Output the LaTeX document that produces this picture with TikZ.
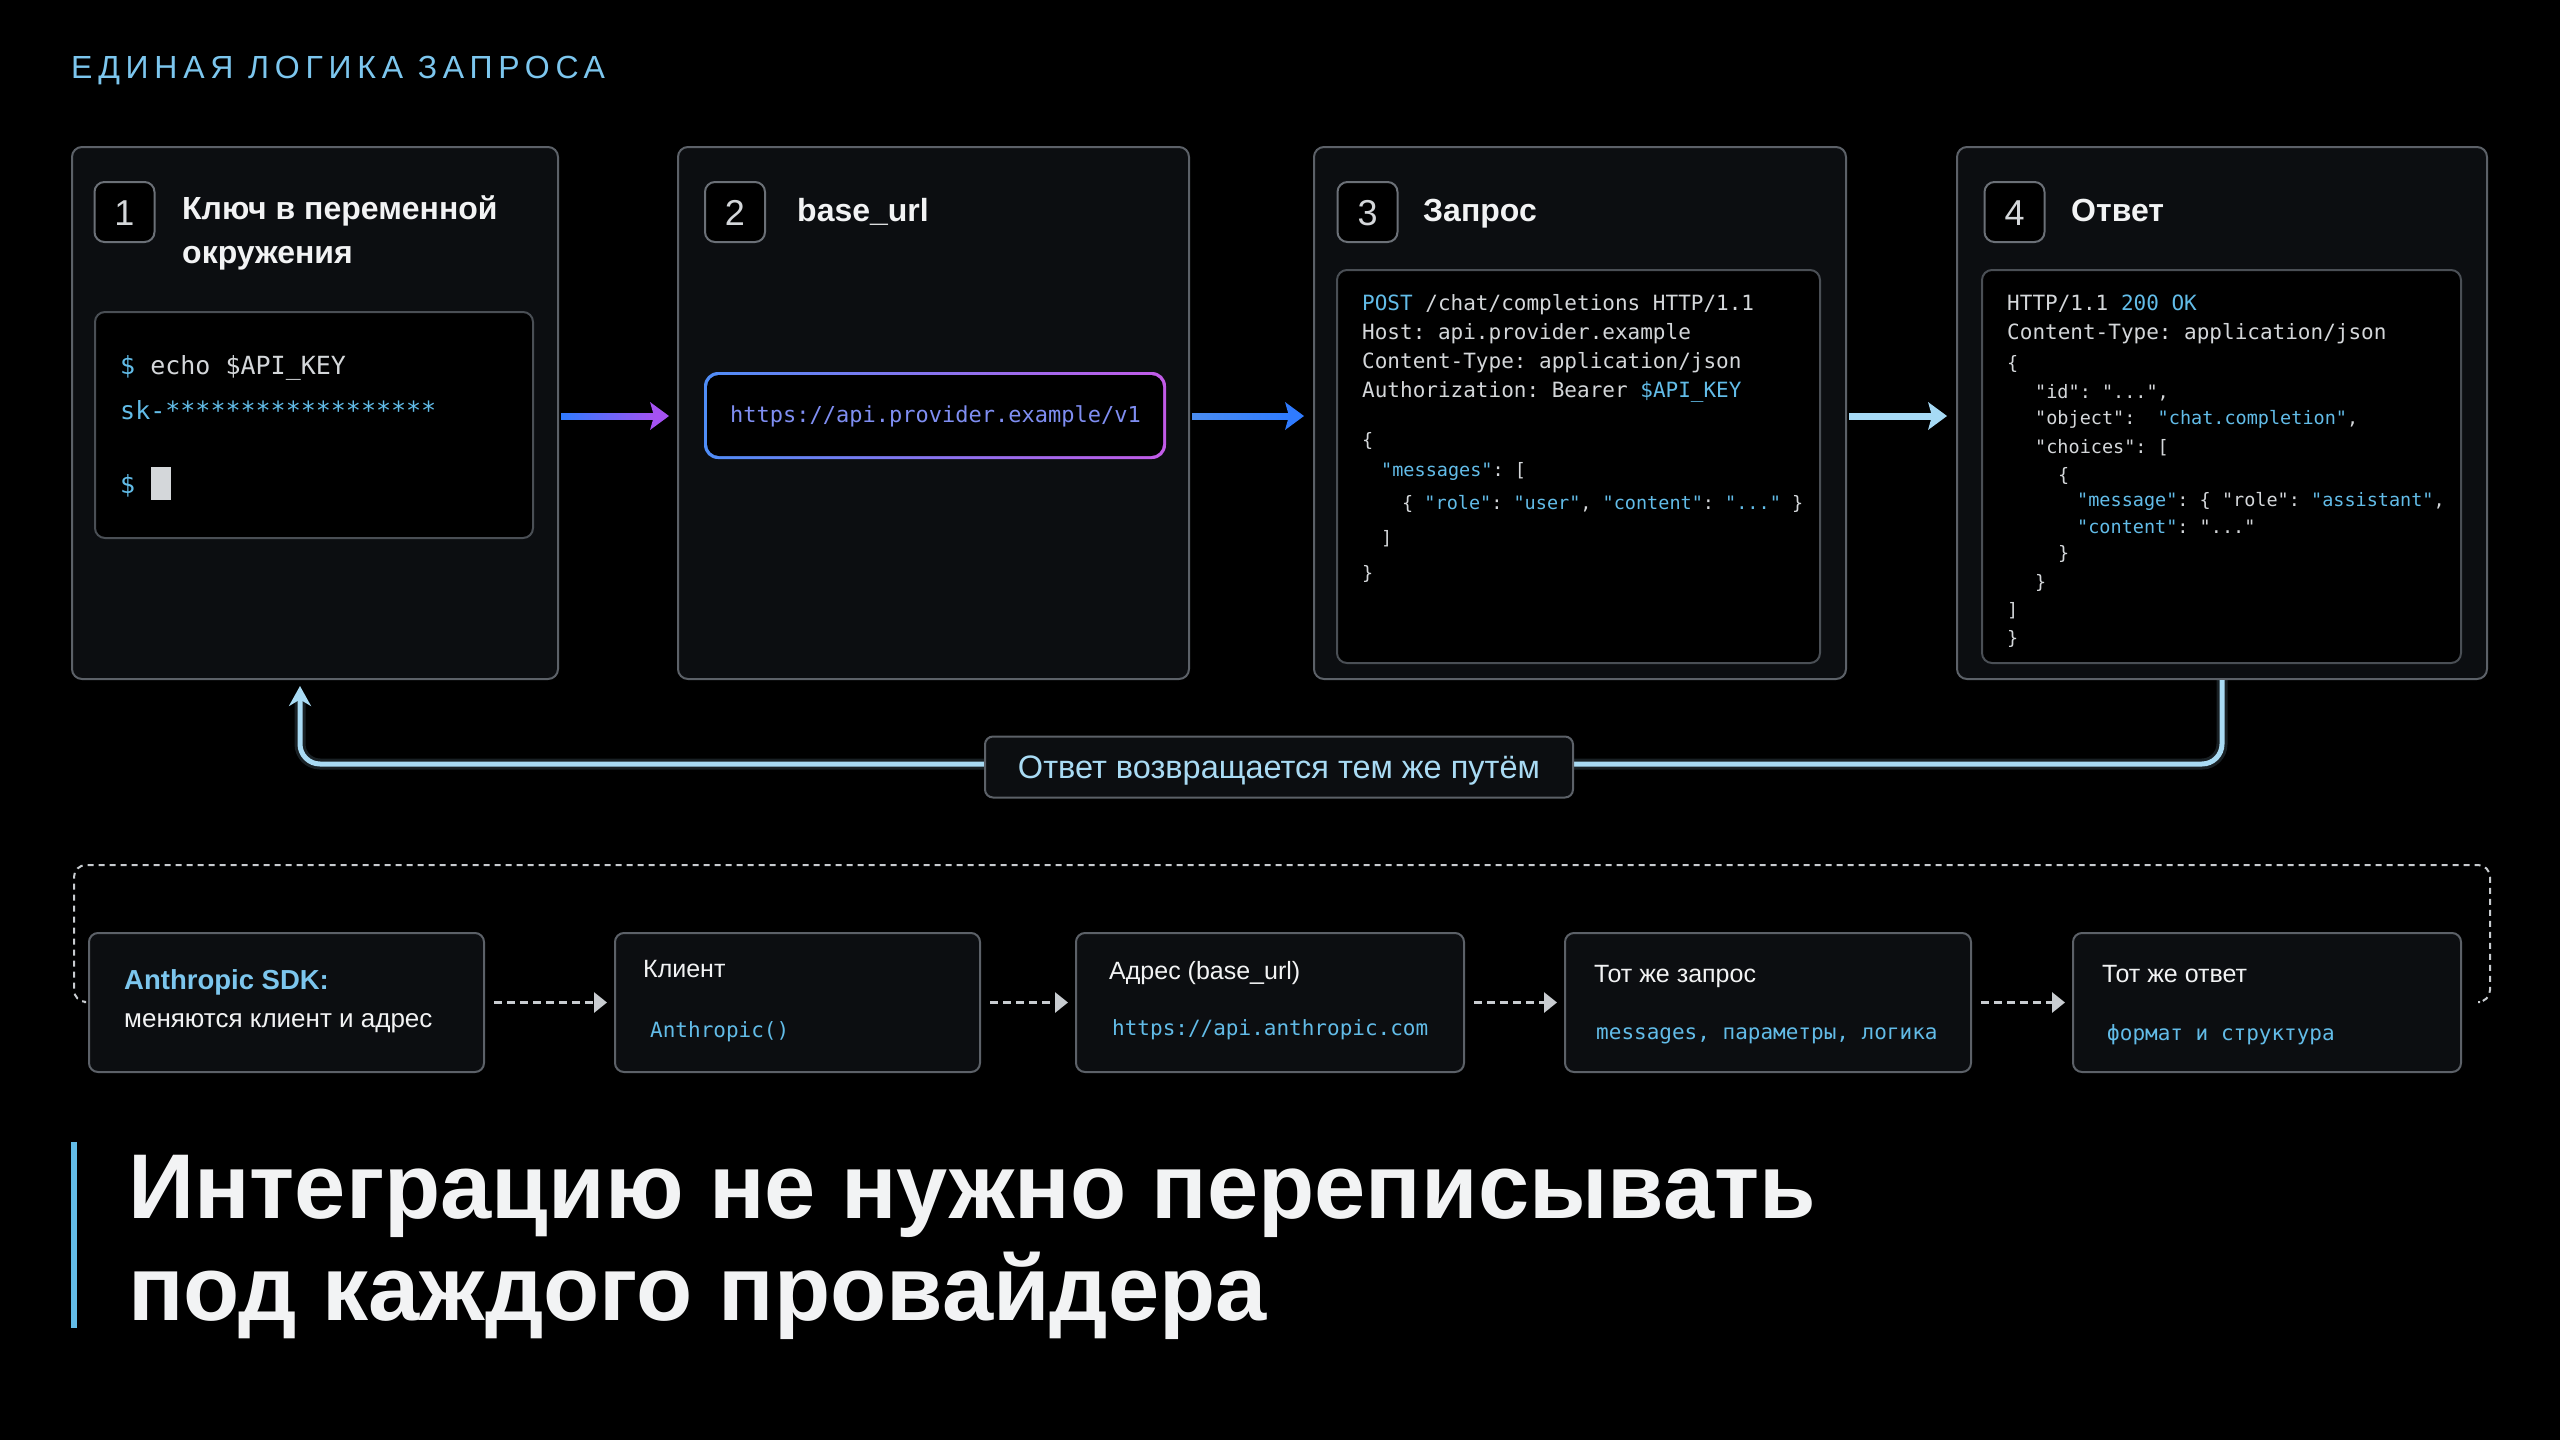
\documentclass[tikz,border=0pt]{standalone}
\usepackage{fontspec}
\setmainfont{Liberation Sans}
\setmonofont{DejaVu Sans Mono}
\newfontfamily\trackfont[LetterSpace=18]{Liberation Sans}
\usetikzlibrary{arrows.meta,calc}
\definecolor{bg}{HTML}{000000}
\definecolor{cardfill}{HTML}{0C0E11}
\definecolor{cardline}{HTML}{5C6168}
\definecolor{codeline}{HTML}{4A4F55}
\definecolor{ctext}{HTML}{D4D7DA}
\definecolor{cblue}{HTML}{62BCE8}
\definecolor{tblue}{HTML}{7CC6EE}
\definecolor{white2}{HTML}{F2F3F4}
\definecolor{urlblue}{HTML}{4F8DF7}
\definecolor{urlpink}{HTML}{C35BE8}
\definecolor{urltext}{HTML}{7F8EF2}
\definecolor{arblue}{HTML}{2F7BFF}
\definecolor{arblueL}{HTML}{4A8CF0}
\definecolor{arpurple}{HTML}{A552F2}
\definecolor{arlight}{HTML}{A6DAF5}
\definecolor{retblue}{HTML}{A9DBF4}
\definecolor{dashgray}{HTML}{C8CCD0}
\definecolor{badgeline}{HTML}{6B7077}
\newcommand\fsz[1]{\fontsize{#1pt}{#1pt}\selectfont}
\newcommand\kb[1]{\textcolor{cblue}{#1}}
\newcommand\garrow[4]{%
  \shade[left color=#3,right color=#4] ($(#1)+(0,-3)$) rectangle ($(#2)+(-14,3)$);
  \fill[#4] (#2) -- ($(#2)+(-19,-14)$) -- ($(#2)+(-15,0)$) -- ($(#2)+(-19,14)$) -- cycle;}
\tikzset{
  card/.style={draw=cardline, line width=2pt, fill=cardfill, rounded corners=10pt, inner sep=0pt},
  codebox/.style={draw=codeline, line width=2pt, fill=black, rounded corners=10pt, inner sep=0pt},
  badge/.style={draw=badgeline, line width=2pt, fill=black, rounded corners=10pt,
    minimum width=60pt, minimum height=60pt, inner sep=0pt, font=\fsz{36}, text=ctext,
    text height=26pt, text depth=0pt},
  ttl/.style={anchor=base west, inner sep=0pt, font=\bfseries\fsz{32}, text=white2},
  txt/.style={anchor=base west, inner sep=0pt, text=white2},
  code/.style={anchor=base west, inner sep=0pt, font=\ttfamily\fsz{21}, text=ctext},
  jsn/.style={anchor=base west, inner sep=0pt, font=\ttfamily\fsz{18.5}, text=ctext},
  bbox/.style={draw=cardline, line width=2pt, fill=cardfill, rounded corners=9pt,
    minimum height=139pt, inner sep=0pt},
  darr/.style={draw=dashgray, line width=3pt, dash pattern=on 8pt off 5pt,
    -{Triangle[length=13pt,width=20pt]}, shorten <=9pt, shorten >=7pt},
}
\begin{document}
\begin{tikzpicture}[x=1pt,y=-1pt]
\useasboundingbox (0,0) rectangle (2560,1440);
\fill[bg] (0,0) rectangle (2560,1440);

% title
\node[anchor=base west, inner sep=0pt, text=tblue, font=\trackfont\fsz{32}] (title) at (71,78) {ЕДИНАЯ ЛОГИКА ЗАПРОСА};

% cards
\node[card, minimum width=486pt, minimum height=532pt] (c1) at (315,413) {};
\node[card, minimum width=511pt, minimum height=532pt] (c2) at (933.5,413) {};
\node[card, minimum width=532pt, minimum height=532pt] (c3) at (1580,413) {};
\node[card, minimum width=530pt, minimum height=532pt] (c4) at (2222,413) {};

% badges and titles
\node[badge] (n1) at (124.5,212) {1};
\node[badge] (n2) at (735,212) {2};
\node[badge] (n3) at (1367.5,212) {3};
\node[badge] (n4) at (2014.5,212) {4};
\node[ttl] (t1a) at (182,219) {Ключ в переменной};
\node[ttl] (t1b) at (182,263) {окружения};
\node[ttl] (t2) at (797,221) {base\_url};
\node[ttl] (t3) at (1423,221) {Запрос};
\node[ttl] (t4) at (2071,221) {Ответ};

% terminal
\node[codebox, minimum width=438pt, minimum height=226pt] (term) at (314,425) {};
\node[code, font=\ttfamily\fsz{25}] (k1) at (120,374) {\kb{\$} echo \$API\_KEY};
\node[code, font=\ttfamily\fsz{25}] (k2) at (120,419) {\kb{sk-******************}};
\node[code, font=\ttfamily\fsz{25}] (k3) at (120,493) {\kb{\$}};
\fill[ctext] (151,467) rectangle (171,500);

% url box
\shade[left color=urlblue, right color=urlpink, rounded corners=14pt] (704,372) rectangle (1166,459);
\fill[black, rounded corners=12pt] (707,375) rectangle (1163,456);
\node[anchor=base west, inner sep=0pt, font=\ttfamily\fsz{22}, text=urltext] (urltxt) at (730,422) {https://api.provider.example/v1};

% request code
\node[codebox, minimum width=483pt, minimum height=393pt] (code3) at (1578.5,466.5) {};
\node[code] (r1) at (1362,310.5) {\kb{POST} /chat/completions HTTP/1.1};
\node[code] (r2) at (1362,339.5) {Host: api.provider.example};
\node[code] (r3) at (1362,368.5) {Content-Type: application/json};
\node[code] (r4) at (1362,397.5) {Authorization: Bearer \kb{\$API\_KEY}};
\node[jsn] (r5) at (1362,446.5) {\{};
\node[jsn] (r6) at (1381,476.5) {\kb{"messages"}: [};
\node[jsn] (r7) at (1402,509.5) {\{ \kb{"role"}: \kb{"user"}, \kb{"content"}: \kb{"..."} \}};
\node[jsn] (r8) at (1381,544.5) {]};
\node[jsn] (r9) at (1362,579.5) {\}};

% response code
\node[codebox, minimum width=479pt, minimum height=393pt] (code4) at (2221.5,466.5) {};
\node[code] (s1) at (2007,310.5) {HTTP/1.1 \kb{200 OK}};
\node[code] (s2) at (2007,339.5) {Content-Type: application/json};
\node[jsn] (s3) at (2007,369.5) {\{};
\node[jsn] (s4) at (2035,398.5) {"id": "...",};
\node[jsn] (s5) at (2035,424.5) {"object":\ \ \kb{"chat.completion"},};
\node[jsn] (s6) at (2035,453.5) {"choices": [};
\node[jsn] (s7) at (2058,481.5) {\{};
\node[jsn] (s8) at (2077,506.5) {\kb{"message"}: \{ "role": \kb{"assistant"},};
\node[jsn] (s9) at (2077,533.5) {\kb{"content"}: "..."};
\node[jsn] (s10) at (2058,559.5) {\}};
\node[jsn] (s11) at (2035,588.5) {\}};
\node[jsn] (s12) at (2007,616.5) {]};
\node[jsn] (s13) at (2007,644.5) {\}};

% top arrows
\coordinate (a1s) at ($(c1.east)+(2,3)$);
\coordinate (a1e) at ($(c2.west)+(-8,3)$);
\coordinate (a2s) at ($(c2.east)+(2,3)$);
\coordinate (a2e) at ($(c3.west)+(-9,3)$);
\coordinate (a3s) at ($(c3.east)+(2,3)$);
\coordinate (a3e) at ($(c4.west)+(-9,3)$);
\garrow{a1s}{a1e}{arblue}{arpurple}
\garrow{a2s}{a2e}{arblueL}{arblue}
\garrow{a3s}{a3e}{arlight}{arlight}

% return path
\draw[retblue, line width=11pt, opacity=0.15, rounded corners=20pt] (c4.south) -- ++(0,84) -| ($(c1.south)+(-15,20)$);
\draw[retblue, line width=5pt, rounded corners=20pt, -{Stealth[length=20pt,width=22pt]}] (c4.south) -- ++(0,84) -| ($(c1.south)+(-15,6)$);
\node[draw=cardline, line width=2pt, fill=cardfill, rounded corners=8pt, minimum width=588pt,
  minimum height=61pt, text=retblue, font=\fsz{32.5}, text height=23pt, text depth=0pt] (retlab) at (1279,767) {Ответ возвращается тем же путём};

% dashed bracket
\draw[dashgray, line width=2pt, dash pattern=on 6pt off 5pt, rounded corners=12pt]
  (84,1002) -- (74,1002) -- (74,865) -- (2490,865) -- (2490,1002) -- (2480,1002);

% bottom boxes
\node[bbox, minimum width=395pt] (b1) at (286.5,1002.5) {};
\node[bbox, minimum width=365pt] (b2) at (797.5,1002.5) {};
\node[bbox, minimum width=388pt] (b3) at (1270,1002.5) {};
\node[bbox, minimum width=406pt] (b4) at (1768,1002.5) {};
\node[bbox, minimum width=388pt] (b5) at (2267,1002.5) {};
\draw[darr] (b1.east) -- (b2.west);
\draw[darr] (b2.east) -- (b3.west);
\draw[darr] (b3.east) -- (b4.west);
\draw[darr] (b4.east) -- (b5.west);

\node[txt, text=tblue, font=\bfseries\fsz{27.5}] (u1) at (124,989) {Anthropic SDK:};
\node[txt, font=\fsz{26}] (u2) at (124,1027) {меняются клиент и адрес};
\node[txt, font=\fsz{25}] (v1) at (643,977) {Клиент};
\node[code, text=cblue] (v2) at (650,1037.5) {Anthropic()};
\node[txt, font=\fsz{25}] (w1) at (1109,979) {Адрес (base\_url)};
\node[code, text=cblue] (w2) at (1112,1035.5) {https://api.anthropic.com};
\node[txt, font=\fsz{25}] (x1) at (1594,982) {Тот же запрос};
\node[code, text=cblue] (x2) at (1596,1039.5) {messages, параметры, логика};
\node[txt, font=\fsz{25}] (y1) at (2102,982) {Тот же ответ};
\node[code, text=cblue] (y2) at (2107,1040.5) {формат и структура};

% heading
\fill[cblue] (71,1142) rectangle (77,1328);
\node[txt, font=\bfseries\fsz{92}] (h1) at (128,1218) {Интеграцию не нужно переписывать};
\node[txt, font=\bfseries\fsz{92}] (h2) at (128,1320) {под каждого провайдера};
\end{tikzpicture}
\end{document}
